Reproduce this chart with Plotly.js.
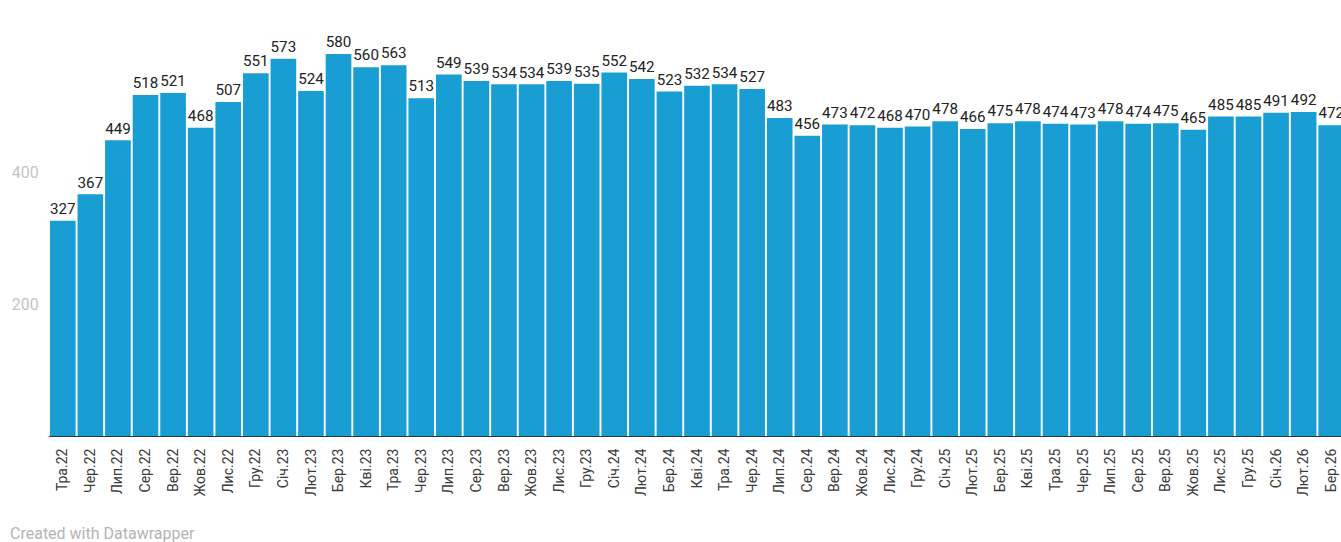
<!DOCTYPE html>
<html>
<head>
<meta charset="utf-8">
<script src="https://cdn.plot.ly/plotly-3.0.1.min.js"></script>
<style>
html,body{margin:0;padding:0;background:#fff;overflow:hidden;width:1341px;height:542px;}
#chart{width:1345px;height:542px;}
</style>
</head>
<body>
<div id="chart"></div>
<script>
const months = ["Тра.22","Чер.22","Лип.22","Сер.22","Вер.22","Жов.22","Лис.22","Гру.22",
"Січ.23","Лют.23","Бер.23","Кві.23","Тра.23","Чер.23","Лип.23","Сер.23","Вер.23","Жов.23","Лис.23","Гру.23",
"Січ.24","Лют.24","Бер.24","Кві.24","Тра.24","Чер.24","Лип.24","Сер.24","Вер.24","Жов.24","Лис.24","Гру.24",
"Січ.25","Лют.25","Бер.25","Кві.25","Тра.25","Чер.25","Лип.25","Сер.25","Вер.25","Жов.25","Лис.25","Гру.25",
"Січ.26","Лют.26","Бер.26"];
const values = [327,367,449,518,521,468,507,551,
573,524,580,560,563,513,549,539,534,534,539,535,
552,542,523,532,534,527,483,456,473,472,468,470,
478,466,475,478,474,473,478,474,475,465,485,485,
491,492,472];
const yTicks = [200,400];
const footer = "Created with Datawrapper";

Plotly.newPlot('chart', [{
  type: 'bar',
  x: months,
  y: values,
  text: values.map(String),
  textposition: 'outside',
  cliponaxis: false,
  textfont: {family: 'Roboto, sans-serif', size: 16, color: '#222'},
  marker: {color: '#189ed3', line: {width: 0}},
  hoverinfo: 'x+y'
}], {
  width: 1345, height: 542,
  margin: {l: 49, r: 0, t: 20, b: 106},
  paper_bgcolor: '#fff', plot_bgcolor: '#fff',
  bargap: 0.07,
  showlegend: false,
  font: {family: 'Roboto, sans-serif'},
  xaxis: {
    type: 'category',
    range: [-0.5, 46.5],
    tickangle: -90,
    tickfont: {family: 'Roboto, sans-serif', size: 14, color: '#3a3a3a'},
    ticks: 'outside', ticklen: 6, tickcolor: 'rgba(0,0,0,0)',
    showline: true, linecolor: '#333', linewidth: 1,
    showgrid: false, fixedrange: true
  },
  yaxis: {
    range: [0, 631.7],
    tickvals: yTicks,
    ticktext: yTicks.map(String),
    tickfont: {family: 'Roboto, sans-serif', size: 16, color: '#c4c4c4'},
    showgrid: false, zeroline: false, showline: false,
    ticks: 'outside', ticklen: 6, tickcolor: 'rgba(0,0,0,0)',
    fixedrange: true
  },
  annotations: [{
    text: footer, xref: 'paper', yref: 'paper', x: -49/1296, y: -106/416,
    xanchor: 'left', yanchor: 'bottom', xshift: 8, yshift: -3, showarrow: false,
    font: {family: 'Roboto, sans-serif', size: 16, color: '#b4b4b4'}
  }]
}, {displayModeBar: false, staticPlot: true});
</script>
</body>
</html>
